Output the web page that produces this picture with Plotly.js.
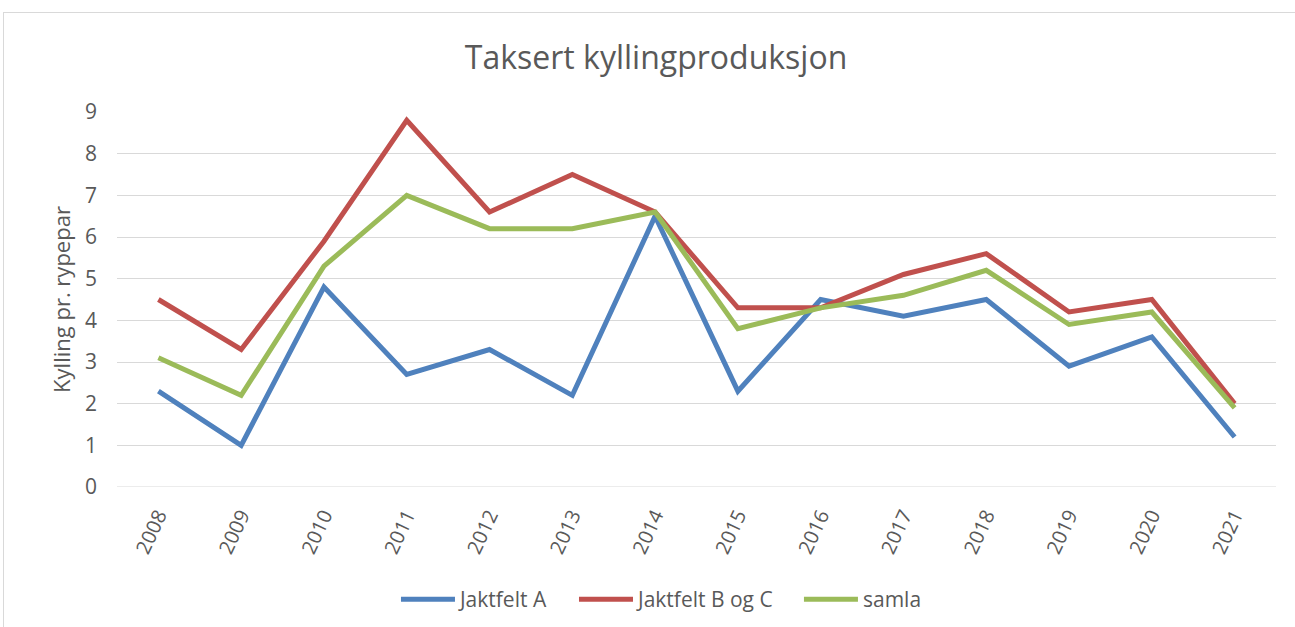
<!DOCTYPE html>
<html>
<head>
<meta charset="utf-8">
<script src="https://cdn.plot.ly/plotly-3.0.1.min.js"></script>
<style>
  html, body { margin: 0; padding: 0; background: #ffffff; }
  #wrap { position: relative; width: 1295px; height: 627px; overflow: hidden; }
  #frame { position: absolute; left: 3px; top: 12px; width: 1400px; height: 800px; border: 1px solid #d9d9d9; box-sizing: border-box; }
  #chart { position: absolute; left: 0; top: 0; width: 1295px; height: 627px; }
</style>
</head>
<body>
<div id="wrap">
  <div id="frame"></div>
  <div id="chart"></div>
</div>
<script>
const years = ["2008","2009","2010","2011","2012","2013","2014","2015","2016","2017","2018","2019","2020","2021"];
const jaktfeltA = [2.3, 1.0, 4.8, 2.7, 3.3, 2.2, 6.5, 2.3, 4.5, 4.1, 4.5, 2.9, 3.6, 1.2];
const jaktfeltBC = [4.5, 3.3, 5.9, 8.8, 6.6, 7.5, 6.6, 4.3, 4.3, 5.1, 5.6, 4.2, 4.5, 2.0];
const samla = [3.1, 2.2, 5.3, 7.0, 6.2, 6.2, 6.6, 3.8, 4.3, 4.6, 5.2, 3.9, 4.2, 1.9];
const yTicks = [0,1,2,3,4,5,6,7,8,9];

const font = "Open Sans, Liberation Sans, sans-serif";
const grey = "#595959";

const mk = (name, y, color, lg) => ({
  type: "scatter", mode: "lines", name: name, x: years, y: y,
  line: { color: color, width: 5, shape: "linear" },
  legend: lg,
  hoverinfo: "skip"
});

const data = [
  mk("Jaktfelt A", jaktfeltA, "#4F81BD", "legend"),
  mk("Jaktfelt B og C", jaktfeltBC, "#C0504D", "legend2"),
  mk("samla", samla, "#9BBB59", "legend3")
];

const legBase = (x) => ({
  orientation: "h", x: x, xanchor: "left", y: -0.3, yanchor: "middle",
  font: { family: font, size: 21, color: grey },
  bgcolor: "rgba(0,0,0,0)",
  itemwidth: 54
});

const layout = {
  width: 1295, height: 627,
  paper_bgcolor: "rgba(0,0,0,0)",
  plot_bgcolor: "rgba(0,0,0,0)",
  margin: { l: 117, r: 19, t: 112, b: 140, autoexpand: false },
  font: { family: font, color: grey, size: 20 },
  title: {
    text: "Taksert kyllingproduksjon",
    font: { family: font, size: 32, color: grey },
    x: 0.5066, xanchor: "center", y: 0.908, yanchor: "middle"
  },
  xaxis: {
    type: "category",
    categoryorder: "array", categoryarray: years,
    tickangle: -65,
    tickfont: { size: 20, color: grey },
    ticklabelstandoff: 12,
    showgrid: false, zeroline: false,
    showline: false, ticks: "",
    automargin: false,
    range: [-0.5, years.length - 0.5]
  },
  yaxis: {
    range: [0, 9],
    tickvals: yTicks,
    ticktext: yTicks.map(String),
    tickfont: { size: 21, color: grey },
    showgrid: true, gridcolor: "#d9d9d9", gridwidth: 1,
    zeroline: false, showline: false, ticks: "",
    ticklabelstandoff: 19,
    automargin: false,
    title: { text: "Kylling pr. rypepar", font: { size: 22, color: grey }, standoff: 8 }
  },
  shapes: [{
    type: "line", xref: "paper", yref: "y", x0: 0, x1: 1, y0: 0, y1: 0,
    line: { color: "#d9d9d9", width: 1 }, layer: "below"
  }],
  showlegend: true,
  legend: legBase(0.2407),
  legend2: legBase(0.3943),
  legend3: legBase(0.5884)
};

Plotly.newPlot("chart", data, layout, { displayModeBar: false, staticPlot: true });
</script>
</body>
</html>
